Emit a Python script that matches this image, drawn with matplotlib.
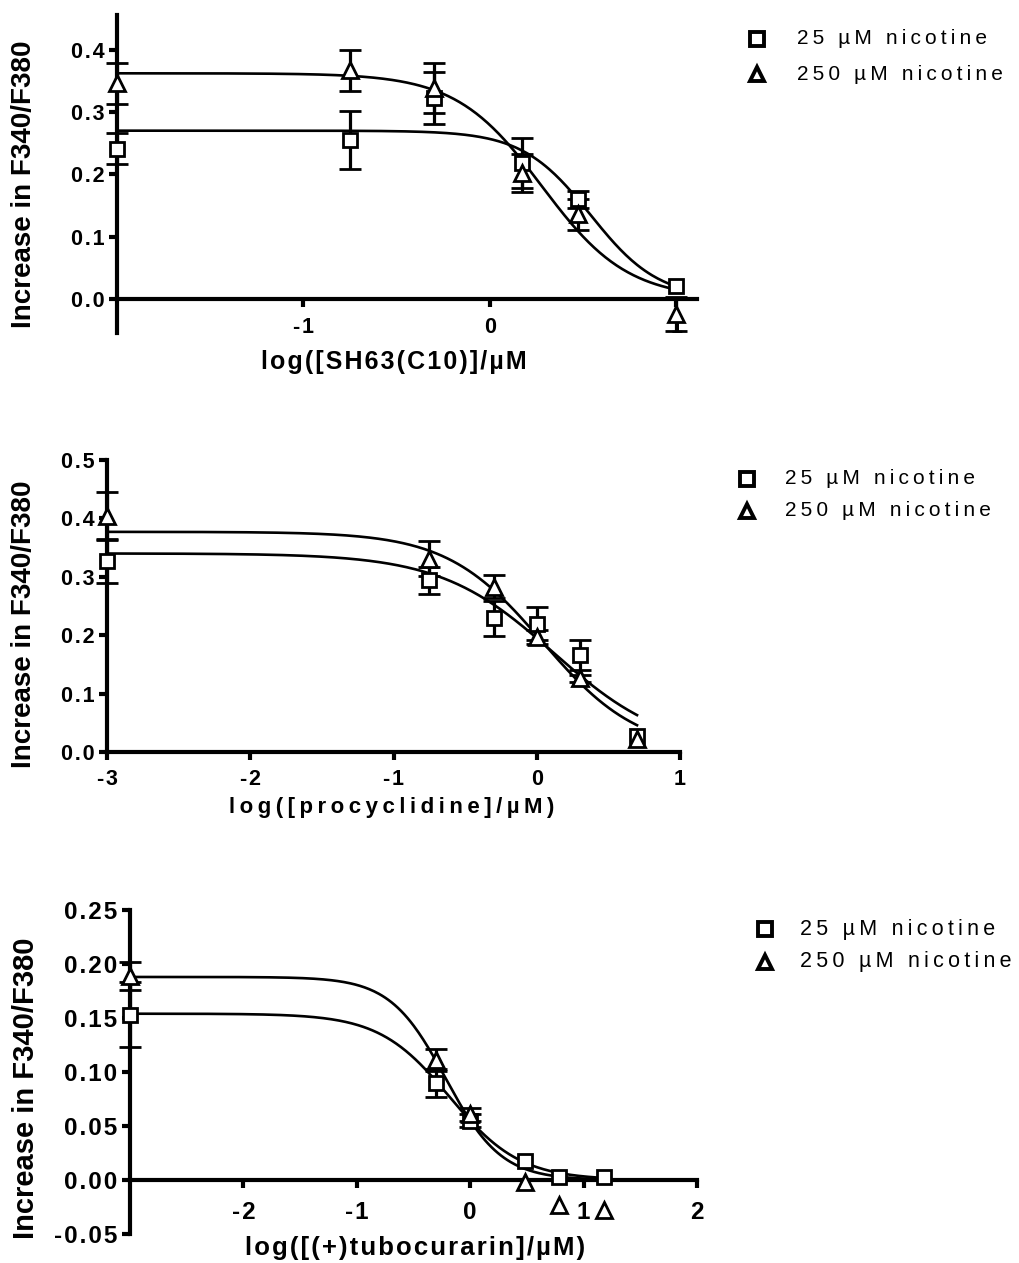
import numpy as np
import matplotlib
matplotlib.use("Agg")
import matplotlib.pyplot as plt
from matplotlib.lines import Line2D

plt.rcParams['font.family'] = ['Liberation Sans', 'DejaVu Sans']

NA = np.nan  # error bar not visible in the original

# ---------------- data ----------------
series_labels = ["25 µM nicotine", "250 µM nicotine"]

# Panel 1: SH63(C10)
p1_x = [-2.0, -0.75, -0.3, 0.17, 0.47, 1.0]
p1_sq = [0.241, 0.255, 0.322, 0.218, 0.160, 0.021]
p1_sq_err = [0.025, 0.047, 0.042, 0.040, 0.014, NA]
p1_tri = [0.346, 0.367, 0.339, 0.202, 0.136, -0.024]
p1_tri_err = [0.033, 0.033, 0.040, 0.030, 0.025, 0.028]
p1_fit_sq = (0.270, 0.0, 0.539, 2.38)   # top, bottom, logIC50, hill
p1_fit_tri = (0.362, 0.0, 0.278, 1.89)

# Panel 2: procyclidine
p2_x = [-3.0, -0.75, -0.3, 0.0, 0.3, 0.7]
p2_sq = [0.327, 0.294, 0.229, 0.220, 0.166, 0.028]
p2_sq_err = [0.037, 0.023, 0.030, 0.028, 0.025, NA]
p2_tri = [0.404, 0.331, 0.283, 0.197, 0.126, 0.022]
p2_tri_err = [0.041, 0.030, 0.020, 0.012, 0.006, NA]
p2_fit_sq = (0.340, 0.0, 0.117, 1.10)
p2_fit_tri = (0.377, 0.0, 0.040, 1.30)

# Panel 3: (+)tubocurarine
p3_x = [-3.0, -0.3, 0.0, 0.48, 0.78, 1.18]
p3_sq = [0.153, 0.090, 0.055, 0.018, 0.003, 0.003]
p3_sq_err = [0.030, 0.013, 0.006, NA, NA, NA]
p3_tri = [0.189, 0.111, 0.061, -0.002, -0.023, -0.028]
p3_tri_err = [0.013, 0.010, 0.006, NA, NA, NA]
p3_fit_sq = (0.154, 0.0, -0.182, 1.40)
p3_fit_tri = (0.188, 0.0, -0.216, 1.77)

xlabels = ["log([SH63(C10)]/µM", "log([procyclidine]/µM)", "log([(+)tubocurarin]/µM)"]
ylabel = "Increase in F340/F380"

W, H = 1019, 1263
THIN = "\u2009"
HAIR = "\u200a"


def spaced(s, sp=THIN):
    return sp.join(list(s))


def curve(params, x):
    top, bot, c, h = params
    return bot + (top - bot) / (1 + 10 ** ((x - c) * h))


def fx(px):
    return px / W


def fy(py):
    return 1 - py / H


fig = plt.figure(figsize=(W / 100, H / 100), dpi=100)

LW = 2.3
panels = [
    dict(rect=[fx(117), fy(333), 580 / W, 318 / H], xlim=(-2, 1.11), ylim=(-0.0545, 0.4555),
         xticks=[-1, 0, 1], xtl=["-1", "0", "1"], yticks=[0, 0.1, 0.2, 0.3, 0.4],
         ytl=["0.0", "0.1", "0.2", "0.3", "0.4"], xaxis0=True, ybounds=(-0.0545, 0.4555),
         x=p1_x, sq=p1_sq, sqe=p1_sq_err, tri=p1_tri, trie=p1_tri_err,
         fsq=p1_fit_sq, ftri=p1_fit_tri, cx=(-2, 1.0),
         xl=spaced(xlabels[0], HAIR), xlfs=18, xlpos=(394, 362),
         tfs=15.5, tsp=HAIR, xpad=7, ylfs=20, ylpos=(24, 184),
         leg=dict(mx=757, ys=(39, 74), tx=797, fs=15, sp=THIN)),
    dict(rect=[fx(107), fy(752), 573 / W, 292 / H], xlim=(-3, 1), ylim=(0, 0.5),
         xticks=[-3, -2, -1, 0, 1], xtl=["-3", "-2", "-1", "0", "1"],
         yticks=[0, 0.1, 0.2, 0.3, 0.4, 0.5], ytl=["0.0", "0.1", "0.2", "0.3", "0.4", "0.5"],
         xaxis0=False, ybounds=(0, 0.5),
         x=p2_x, sq=p2_sq, sqe=p2_sq_err, tri=p2_tri, trie=p2_tri_err,
         fsq=p2_fit_sq, ftri=p2_fit_tri, cx=(-3, 0.7),
         xl=spaced(xlabels[1], THIN), xlfs=16, xlpos=(392, 808),
         tfs=15.5, tsp=HAIR, xpad=6, ylfs=20, ylpos=(24, 624),
         leg=dict(mx=747, ys=(479, 511), tx=785, fs=15, sp=THIN)),
    dict(rect=[fx(130), fy(1234), 567 / W, 324 / H], xlim=(-3, 2), ylim=(-0.05, 0.25),
         xticks=[-2, -1, 0, 1, 2], xtl=["-2", "-1", "0", "1", "2"],
         yticks=[-0.05, 0, 0.05, 0.10, 0.15, 0.20, 0.25],
         ytl=["-0.05", "0.00", "0.05", "0.10", "0.15", "0.20", "0.25"],
         xaxis0=True, ybounds=(-0.05, 0.25),
         x=p3_x, sq=p3_sq, sqe=p3_sq_err, tri=p3_tri, trie=p3_tri_err,
         fsq=p3_fit_sq, ftri=p3_fit_tri, cx=(-3, 1.18),
         xl=spaced(xlabels[2], HAIR), xlfs=18.5, xlpos=(415, 1248),
         tfs=17.5, tsp=HAIR, xpad=9, ylfs=21, ylpos=(26, 1088),
         leg=dict(mx=765, ys=(929, 962), tx=800, fs=15.5, sp=THIN)),
]

for p in panels:
    ax = fig.add_axes(p["rect"])
    ax.set_xlim(*p["xlim"])
    ax.set_ylim(*p["ylim"])
    for s in ["top", "right"]:
        ax.spines[s].set_visible(False)
    for s in ["left", "bottom"]:
        ax.spines[s].set_linewidth(3)
        ax.spines[s].set_capstyle("projecting")
    if p["xaxis0"]:
        ax.spines["bottom"].set_position(("data", 0))
    ax.spines["left"].set_bounds(*p["ybounds"])
    ax.set_xticks(p["xticks"])
    ax.set_xticklabels([spaced(t, p["tsp"]) for t in p["xtl"]])
    ax.set_yticks(p["yticks"])
    ax.set_yticklabels([spaced(t, p["tsp"]) for t in p["ytl"]])
    ax.tick_params(axis="both", direction="out", length=6, width=3, labelsize=p["tfs"])
    ax.tick_params(axis="x", pad=p["xpad"])
    ax.tick_params(axis="y", pad=3)
    for t in ax.get_xticklabels() + ax.get_yticklabels():
        t.set_fontweight("bold")

    xx = np.linspace(p["cx"][0], p["cx"][1], 300)
    ax.plot(xx, curve(p["fsq"], xx), color="black", lw=1.9, zorder=2)
    ax.plot(xx, curve(p["ftri"], xx), color="black", lw=1.9, zorder=2)

    ax.errorbar(p["x"], p["sq"], yerr=p["sqe"], fmt="s", ms=10, mfc="white", mec="black",
                mew=2.0, ecolor="black", elinewidth=LW, capsize=8, capthick=LW,
                clip_on=False, zorder=3)
    ax.errorbar(p["x"], p["tri"], yerr=p["trie"], fmt="^", ms=11, mfc="white", mec="black",
                mew=2.0, ecolor="black", elinewidth=LW, capsize=8, capthick=LW,
                clip_on=False, zorder=3)

    # axis titles
    fig.text(fx(p["xlpos"][0]), fy(p["xlpos"][1]), p["xl"], fontsize=p["xlfs"],
             fontweight="bold", ha="center", va="center")
    fig.text(fx(p["ylpos"][0]), fy(p["ylpos"][1]), ylabel, fontsize=p["ylfs"],
             fontweight="bold", ha="center", va="center", rotation=90)

    # legend
    lg = p["leg"]
    for marker, yy, lab in zip(["s", "^"], lg["ys"], series_labels):
        fig.add_artist(Line2D([fx(lg["mx"])], [fy(yy)], transform=fig.transFigure,
                              marker=marker, ls="none", ms=9.5, mfc="white", mec="black",
                              mew=2.8))
        fig.text(fx(lg["tx"]), fy(yy), lg["sp"].join(list(lab)), fontsize=lg["fs"],
                 ha="left", va="center")

fig.savefig("out.png", dpi=100)
